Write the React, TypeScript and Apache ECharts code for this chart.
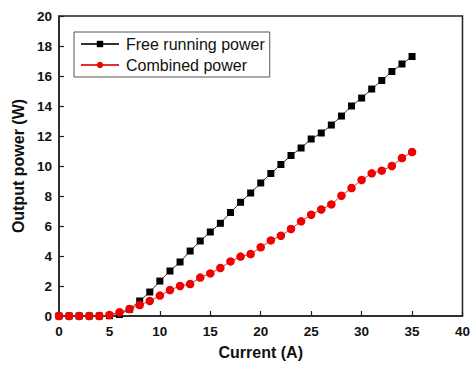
import React, { useEffect, useRef } from "react";
import * as echarts from "echarts";

const currents = [0,1,2,3,4,5,6,7,8,9,10,11,12,13,14,15,16,17,18,19,20,21,22,23,24,25,26,27,28,29,30,31,32,33,34,35];
const freeRunning = [0,0,0,0,0,0.02,0.1,0.45,1.0,1.6,2.33,3.0,3.6,4.33,5.0,5.6,6.18,6.9,7.58,8.2,8.87,9.5,10.1,10.7,11.2,11.8,12.2,12.73,13.33,14.0,14.53,15.13,15.7,16.3,16.8,17.3];
const combined = [0,0,0,0,0,0.07,0.25,0.47,0.73,1.0,1.36,1.73,2.0,2.13,2.56,2.84,3.2,3.64,3.96,4.13,4.58,5.04,5.35,5.8,6.31,6.75,7.1,7.44,8.02,8.53,9.07,9.51,9.69,10.0,10.53,10.93];
const seriesNames = ["Free running power", "Combined power"];

const FONT = "'Liberation Sans', Arial, Helvetica, sans-serif";

export default function App() {
  const ref = useRef<HTMLDivElement>(null);
  useEffect(() => {
    if (!ref.current) return;
    const chart = echarts.init(ref.current, null, { renderer: "svg" });
    chart.setOption({
      animation: false,
      backgroundColor: "#ffffff",
      grid: {
        left: 59, right: 7, top: 16, bottom: 52,
        show: true, borderColor: "#222", borderWidth: 1.5,
      },
      legend: {
        left: 74, top: 32,
        orient: "vertical",
        data: seriesNames,
        backgroundColor: "#fff",
        borderColor: "#555",
        borderWidth: 1,
        padding: [4, 5, 4, 6],
        itemGap: 5,
        itemWidth: 38,
        itemHeight: 8,
        textStyle: { fontFamily: FONT, fontSize: 16, color: "#111", padding: [0, 0, 0, 2] },
      },
      xAxis: {
        type: "value", min: 0, max: 40, interval: 5,
        name: "Current (A)", nameLocation: "middle", nameGap: 28,
        nameTextStyle: { fontFamily: FONT, fontSize: 16, fontWeight: "bold", color: "#111" },
        axisLine: { show: true, lineStyle: { color: "#222", width: 1.5 } },
        axisTick: { show: true, inside: true, length: 5, lineStyle: { color: "#222", width: 1.2 } },
        axisLabel: { fontFamily: FONT, fontSize: 13.5, fontWeight: "bold", color: "#111", margin: 8 },
        splitLine: { show: false },
      },
      yAxis: {
        type: "value", min: 0, max: 20, interval: 2,
        name: "Output power (W)", nameLocation: "middle", nameGap: 33, nameRotate: 90,
        nameTextStyle: { fontFamily: FONT, fontSize: 16, fontWeight: "bold", color: "#111" },
        axisLine: { show: true, lineStyle: { color: "#222", width: 1.5 } },
        axisTick: { show: true, inside: true, length: 5, lineStyle: { color: "#222", width: 1.2 } },
        axisLabel: { fontFamily: FONT, fontSize: 13.5, fontWeight: "bold", color: "#111", margin: 7 },
        splitLine: { show: false },
      },
      series: [
        {
          name: seriesNames[0], type: "line",
          data: currents.map((c, i) => [c, freeRunning[i]]),
          symbol: "rect", symbolSize: 7,
          itemStyle: { color: "#000" },
          lineStyle: { color: "#333", width: 1 },
          z: 2,
        },
        {
          name: seriesNames[1], type: "line",
          data: currents.map((c, i) => [c, combined[i]]),
          symbol: "circle", symbolSize: 8.5,
          itemStyle: { color: "#f00000" },
          lineStyle: { color: "#e03030", width: 1 },
          z: 3,
        },
      ],
    });
    return () => chart.dispose();
  }, []);
  return <div ref={ref} style={{ position: "fixed", left: 0, top: 0, width: 473, height: 368 }} />;
}
